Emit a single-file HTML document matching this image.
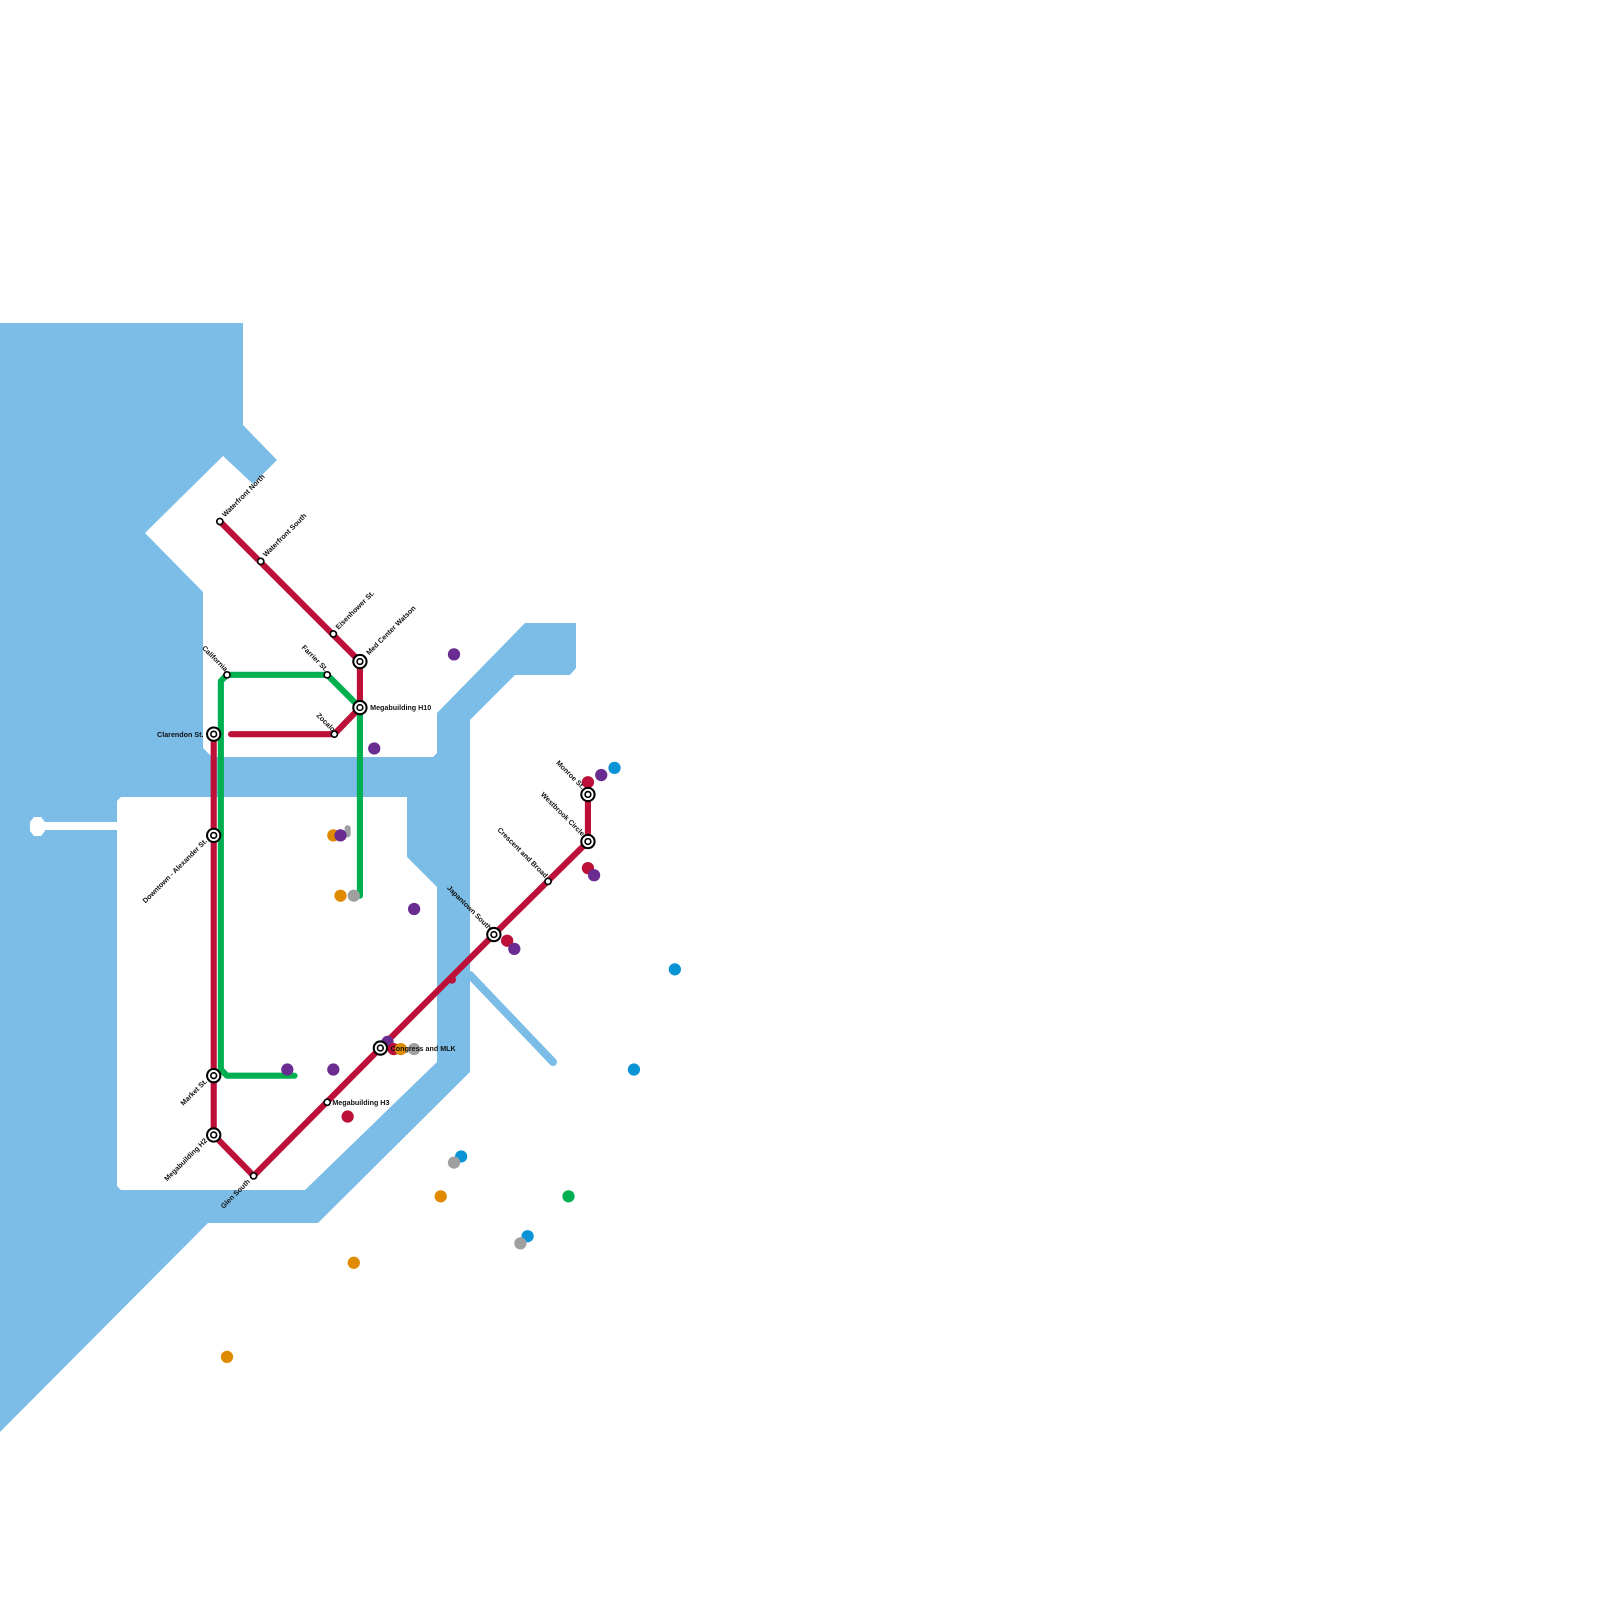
<!DOCTYPE html>
<html><head><meta charset="utf-8"><style>
html,body{margin:0;padding:0;background:#fff;}
svg{display:block;}
text{font-family:"Liberation Sans",sans-serif;font-weight:bold;font-size:7px;fill:#111;}
</style></head><body>
<svg width="1600" height="1600" viewBox="0 0 1600 1600" xmlns="http://www.w3.org/2000/svg">
<g fill="#7bbde6">
<polygon points="0,323 243,323 243,425 277,460 253,484 223,456 145,533 203,592 203,748 212,757 433,757 437,753 437,713 525,623 576,623 576,668 570,675 515,675 470,720 470,1072 318,1223 208,1223 0,1432"/>
</g>
<line x1="470" y1="975" x2="553" y2="1062" stroke="#7bbde6" stroke-width="8" stroke-linecap="round"/>
<g fill="#fff">
<polygon points="117,801 121,797 407,797 407,857 437,887 437,1062 305,1190 121,1190 117,1186"/>
<rect x="40" y="822" width="78" height="8"/>
<polygon points="30,822 34,817 41,817 45,822 45,831 41,836 34,836 30,831"/>
</g>
<g transform="scale(1.0225)">
<!-- green line -->
<polyline points="288,1052 222,1052 216,1046 216,666 222,660 320,660 352,692 352,876" fill="none" stroke="#00b050" stroke-width="6" stroke-linecap="round" stroke-linejoin="round"/>
<!-- red lines -->
<g fill="none" stroke="#bd1038" stroke-width="6" stroke-linecap="round" stroke-linejoin="round">
<polyline points="215,510 352,647 352,692 327,718 226,718"/>
<polyline points="209,718 209,1110 248,1150 372,1025 483,914 575,823 575,777"/>
</g>
<!-- dots -->
<g>
<circle cx="444" cy="640" r="6" fill="#6a2c91"/>
<circle cx="366" cy="732" r="6" fill="#6a2c91"/>
<circle cx="326" cy="817" r="6" fill="#e08a00"/>
<rect x="337" y="807" width="6" height="12" rx="3" fill="#a0a0a0"/>
<circle cx="333" cy="817" r="6" fill="#6a2c91"/>
<circle cx="333" cy="876" r="6" fill="#e08a00"/>
<circle cx="346" cy="876" r="6" fill="#a0a0a0"/>
<circle cx="405" cy="889" r="6" fill="#6a2c91"/>
<circle cx="575" cy="765" r="6" fill="#bd1038"/>
<circle cx="588" cy="758" r="6" fill="#6a2c91"/>
<circle cx="601" cy="751" r="6" fill="#0a94d6"/>
<circle cx="575" cy="849" r="6" fill="#bd1038"/>
<circle cx="581" cy="856" r="6" fill="#6a2c91"/>
<circle cx="496" cy="920" r="6" fill="#bd1038"/>
<circle cx="503" cy="928" r="6" fill="#6a2c91"/>
<circle cx="442" cy="958" r="4" fill="#bd1038"/>
<circle cx="660" cy="948" r="6" fill="#0a94d6"/>
<circle cx="281" cy="1046" r="6" fill="#6a2c91"/>
<circle cx="326" cy="1046" r="6" fill="#6a2c91"/>
<circle cx="379" cy="1019" r="6" fill="#6a2c91"/>
<circle cx="385" cy="1026" r="6" fill="#bd1038"/>
<circle cx="392" cy="1026" r="6" fill="#e08a00"/>
<circle cx="405" cy="1026" r="6" fill="#a0a0a0"/>
<circle cx="340" cy="1092" r="6" fill="#bd1038"/>
<circle cx="620" cy="1046" r="6" fill="#0a94d6"/>
<circle cx="451" cy="1131" r="6" fill="#0a94d6"/>
<circle cx="444" cy="1137" r="6" fill="#a0a0a0"/>
<circle cx="431" cy="1170" r="6" fill="#e08a00"/>
<circle cx="556" cy="1170" r="6" fill="#00b050"/>
<circle cx="516" cy="1209" r="6" fill="#0a94d6"/>
<circle cx="509" cy="1216" r="6" fill="#a0a0a0"/>
<circle cx="346" cy="1235" r="6" fill="#e08a00"/>
<circle cx="222" cy="1327" r="6" fill="#e08a00"/>
</g>
<!-- stations -->
<g fill="#fff" stroke="#000" stroke-width="1.6">
<circle cx="215" cy="510" r="3"/>
<circle cx="255" cy="549" r="3"/>
<circle cx="326" cy="620" r="3"/>
<circle cx="222" cy="660" r="3"/>
<circle cx="320" cy="660" r="3"/>
<circle cx="327" cy="718" r="3"/>
<circle cx="320" cy="1078" r="3"/>
<circle cx="248" cy="1150" r="3"/>
<circle cx="536" cy="862" r="3"/>
</g>
<g fill="#fff" stroke="#000">
<g stroke-width="2">
<circle cx="352" cy="647" r="6.5"/><circle cx="352" cy="692" r="6.5"/>
<circle cx="209" cy="718" r="6.5"/><circle cx="209" cy="817" r="6.5"/>
<circle cx="209" cy="1052" r="6.5"/><circle cx="209" cy="1110" r="6.5"/>
<circle cx="372" cy="1025" r="6.5"/><circle cx="483" cy="914" r="6.5"/>
<circle cx="575" cy="823" r="6.5"/><circle cx="575" cy="777" r="6.5"/>
</g>
<g stroke-width="1.6">
<circle cx="352" cy="647" r="2.8"/><circle cx="352" cy="692" r="2.8"/>
<circle cx="209" cy="718" r="2.8"/><circle cx="209" cy="817" r="2.8"/>
<circle cx="209" cy="1052" r="2.8"/><circle cx="209" cy="1110" r="2.8"/>
<circle cx="372" cy="1025" r="2.8"/><circle cx="483" cy="914" r="2.8"/>
<circle cx="575" cy="823" r="2.8"/><circle cx="575" cy="777" r="2.8"/>
</g>
</g>
<!-- labels -->
<text transform="translate(220,506) rotate(-45)">Waterfront North</text>
<text transform="translate(260,545) rotate(-45)">Waterfront South</text>
<text transform="translate(331,616) rotate(-45)">Eisenhower St.</text>
<text transform="translate(361,641) rotate(-45)">Med Center Watson</text>
<text x="362" y="694.5">Megabuilding H10</text>
<text transform="translate(318,657) rotate(45)" text-anchor="end">Farrier St.</text>
<text transform="translate(220,657) rotate(45)" text-anchor="end">California</text>
<text transform="translate(325,716) rotate(45)" text-anchor="end">Zocalo</text>
<text x="199" y="721" text-anchor="end">Clarendon St.</text>
<text transform="translate(203,823) rotate(-45)" text-anchor="end">Downtown - Alexander St.</text>
<text transform="translate(203,1058) rotate(-45)" text-anchor="end">Market St.</text>
<text transform="translate(203,1116) rotate(-45)" text-anchor="end">Megabuilding H2</text>
<text transform="translate(245,1156) rotate(-45)" text-anchor="end">Glen South</text>
<text x="325" y="1080.5">Megabuilding H3</text>
<text x="382" y="1028">Congress and MLK</text>
<text transform="translate(478,910) rotate(45)" text-anchor="end">Japantown South</text>
<text transform="translate(533,859) rotate(45)" text-anchor="end">Crescent and Broad</text>
<text transform="translate(569,818) rotate(45)" text-anchor="end">Westbrook Circle</text>
<text transform="translate(569,772) rotate(45)" text-anchor="end">Monroe St.</text>
</g>
</svg>
</body></html>
